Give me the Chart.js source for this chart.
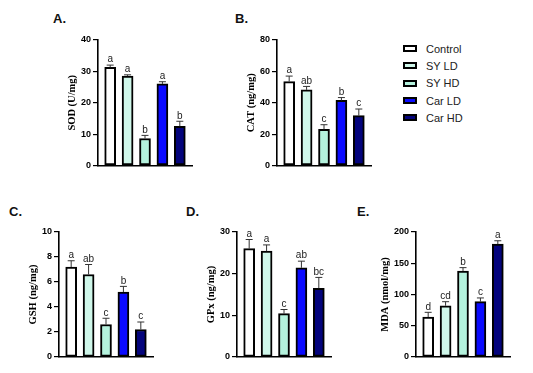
<!DOCTYPE html>
<html>
<head>
<meta charset="utf-8">
<script src="https://cdn.jsdelivr.net/npm/chart.js@4.4.1/dist/chart.umd.min.js"></script>
<style>
  html, body { margin: 0; padding: 0; background: #fff; }
  #stage { position: relative; width: 533px; height: 373px; overflow: hidden; background: #fff; }
  .panel { position: absolute; }
  .ptitle { position: absolute; font: bold 13px "Liberation Sans", Arial, sans-serif; color: #111; line-height: 13px; }
  #legend { position: absolute; left: 403px; top: 40px; font: 11px "Liberation Sans", Arial, sans-serif; color: #222; }
  .lrow { height: 17.3px; display: flex; align-items: center; }
  .sw { width: 10px; height: 3px; border: 2px solid #000; margin-right: 9px; }
</style>
</head>
<body>
<div id="stage">
  <div id="legend"></div>
</div>
<script>
/* DATA */
const GROUPS = ['Control', 'SY LD', 'SY HD', 'Car LD', 'Car HD'];
const COLORS = ['#ffffff', '#cff7ea', '#b4f2dd', '#0a0aff', '#04047c'];

const SOD = [31.3, 28.5, 8.6, 26.0, 12.5];
const SOD_SEM = [0.7, 0.4, 1.0, 0.7, 1.6];
const SOD_SIG = ['a', 'a', 'b', 'a', 'b'];

const CAT = [53.5, 48.2, 23.0, 41.5, 31.8];
const CAT_SEM = [3.5, 2.2, 3.0, 1.8, 4.2];
const CAT_SIG = ['a', 'ab', 'c', 'b', 'c'];

const GSH = [7.2, 6.6, 2.6, 5.2, 2.2];
const GSH_SEM = [0.5, 0.8, 0.5, 0.45, 0.6];
const GSH_SIG = ['a', 'ab', 'c', 'b', 'c'];

const GPX = [26.0, 25.4, 10.4, 21.4, 16.5];
const GPX_SEM = [2.2, 1.5, 1.0, 1.6, 2.6];
const GPX_SIG = ['a', 'a', 'c', 'ab', 'bc'];

const MDA = [64, 82, 137.5, 88.5, 180.5];
const MDA_SEM = [7.5, 6.5, 5.5, 6.0, 5.5];
const MDA_SIG = ['d', 'cd', 'b', 'c', 'a'];

/* PANELS: data + where each one sits */
const PANELS = [
  { tag: 'A.', yTitle: 'SOD (U/mg)',   vals: SOD, sem: SOD_SEM, sig: SOD_SIG, max: 40,  step: 10, axisX: 98,  top: 39.5, bottom: 165, yW: 32, tx: 53,  ty: 12 },
  { tag: 'B.', yTitle: 'CAT (ng/mg)',  vals: CAT, sem: CAT_SEM, sig: CAT_SIG, max: 80,  step: 20, axisX: 277, top: 39.5, bottom: 165, yW: 32, tx: 235, ty: 12 },
  { tag: 'C.', yTitle: 'GSH (ng/mg)',  vals: GSH, sem: GSH_SEM, sig: GSH_SIG, max: 10,  step: 2,  axisX: 58.5, top: 232, bottom: 357, yW: 32, tx: 9,   ty: 205 },
  { tag: 'D.', yTitle: 'GPx (ng/mg)',  vals: GPX, sem: GPX_SEM, sig: GPX_SIG, max: 30,  step: 10, axisX: 237, top: 232, bottom: 357, yW: 32, tx: 186, ty: 205 },
  { tag: 'E.', yTitle: 'MDA (nmol/mg)', vals: MDA, sem: MDA_SEM, sig: MDA_SIG, max: 200, step: 50, axisX: 416, top: 232, bottom: 357, yW: 37, tx: 357, ty: 205 },
];

const PLOT_W = 94;
const PAD = { top: 12, bottom: 8, right: 6 };

/* error bars + significance letters */
const errorBars = {
  id: 'errorBars',
  afterDatasetsDraw(chart) {
    const { ctx } = chart;
    const p = chart.options.plugins.errorBars;
    const xs = chart.scales.x, ys = chart.scales.y;
    ctx.save();
    p.vals.forEach((v, i) => {
      const x = xs.getPixelForValue(i);
      const y0 = ys.getPixelForValue(v);
      const y1 = ys.getPixelForValue(v + p.sem[i]);
      ctx.strokeStyle = '#333';
      ctx.lineWidth = 1;
      ctx.beginPath();
      ctx.moveTo(x, y0);
      ctx.lineTo(x, y1);
      ctx.moveTo(x - 3.5, y1);
      ctx.lineTo(x + 3.5, y1);
      ctx.stroke();
      ctx.fillStyle = '#222';
      ctx.font = '10px "Liberation Sans", Arial, sans-serif';
      ctx.textAlign = 'center';
      ctx.textBaseline = 'bottom';
      ctx.fillText(p.sig[i], x, y1 - 0.5);
    });
    ctx.restore();
  }
};

const stage = document.getElementById('stage');

PANELS.forEach(p => {
  const w = p.yW + PLOT_W + PAD.right;
  const h = PAD.top + (p.bottom - p.top) + PAD.bottom;
  const wrap = document.createElement('div');
  wrap.className = 'panel';
  wrap.style.left = (p.axisX - p.yW) + 'px';
  wrap.style.top = (p.top - PAD.top) + 'px';
  wrap.style.width = w + 'px';
  wrap.style.height = h + 'px';
  const cv = document.createElement('canvas');
  wrap.appendChild(cv);
  stage.appendChild(wrap);

  const t = document.createElement('div');
  t.className = 'ptitle';
  t.style.left = p.tx + 'px';
  t.style.top = p.ty + 'px';
  t.textContent = p.tag;
  stage.appendChild(t);

  new Chart(cv, {
    type: 'bar',
    data: {
      labels: GROUPS,
      datasets: [{
        data: p.vals.map((v, i) => ({ x: i, y: v })),
        backgroundColor: COLORS,
        borderColor: '#000',
        borderWidth: 2,
        borderSkipped: false,
        barThickness: 11,
      }]
    },
    options: {
      responsive: true, maintainAspectRatio: false, animation: false,
      layout: { padding: { left: 0, top: PAD.top, right: PAD.right, bottom: PAD.bottom } },
      plugins: {
        legend: { display: false }, tooltip: { enabled: false },
        errorBars: { vals: p.vals, sem: p.sem, sig: p.sig }
      },
      scales: {
        x: {
          type: 'linear', min: -0.7, max: 4.7, offset: false,
          ticks: { display: false },
          grid: { display: false, offset: false },
          border: { color: '#000', width: 1.6 },
          afterFit: s => { s.height = 0; }
        },
        y: {
          min: 0, max: p.max,
          ticks: { stepSize: p.step, color: '#000', padding: 2, font: { family: '"Liberation Sans", Arial, sans-serif', size: 9, weight: 'bold' } },
          grid: { drawOnChartArea: false, drawTicks: true, tickLength: 5, color: '#000', lineWidth: 1.2 },
          border: { color: '#000', width: 1.6 },
          title: { display: true, text: p.yTitle, color: '#000', padding: { top: 0, bottom: 0 }, font: { family: '"Liberation Serif", "Times New Roman", serif', size: 10.5, weight: 'bold' } },
          afterFit: s => { s.width = p.yW; }
        }
      }
    },
    plugins: [errorBars]
  });
});

/* legend */
const legend = document.getElementById('legend');
GROUPS.forEach((g, i) => {
  const row = document.createElement('div');
  row.className = 'lrow';
  const sw = document.createElement('span');
  sw.className = 'sw';
  sw.style.background = COLORS[i];
  row.appendChild(sw);
  row.appendChild(document.createTextNode(g));
  legend.appendChild(row);
});
</script>
</body>
</html>
